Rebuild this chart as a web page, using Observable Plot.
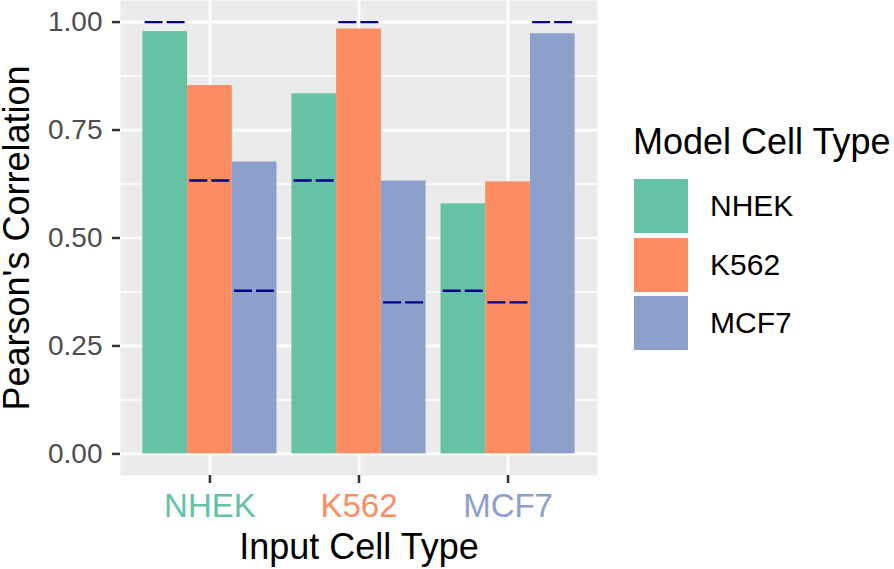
<!DOCTYPE html>
<html>
<head>
<meta charset="utf-8">
<script src="https://cdn.jsdelivr.net/npm/d3@7"></script>
<script src="https://cdn.jsdelivr.net/npm/@observablehq/plot@0.6"></script>
<style>
  html, body { margin: 0; padding: 0; background: white; }
  #wrap { position: relative; width: 894px; height: 569px; font-family: "Liberation Sans", Arial, Helvetica, sans-serif; }
  #legend { position: absolute; left: 633px; top: 0; }
  #legend .title { position: absolute; left: 0; top: 124px; font-size: 36px; color: #000; white-space: nowrap; line-height: 36px; }
  #legend .key { position: absolute; left: 1px; width: 54px; height: 54px; }
  #legend .lab { position: absolute; left: 77px; font-size: 30px; color: #000; line-height: 54px; white-space: nowrap; }
</style>
</head>
<body>
<div id="wrap"><div id="chart"></div><div id="legend"></div></div>
<script>
// ---- data ----
const inputs = ["NHEK", "K562", "MCF7"];          // Input Cell Type (x categories)
const models = ["NHEK", "K562", "MCF7"];          // Model Cell Type (fill)
const modelColors = ["#66C2A5", "#FC8D62", "#8DA0CB"];
// correlation per input (NHEK, K562, MCF7) for each model
const nhekModelValues = [0.978, 0.834, 0.579];
const k562ModelValues = [0.853, 0.984, 0.630];
const mcf7ModelValues = [0.676, 0.632, 0.973];
// dashed reference level per input for each model
const nhekModelBaseline = [1.00, 0.633, 0.378];
const k562ModelBaseline = [0.633, 1.00, 0.351];
const mcf7ModelBaseline = [0.378, 0.351, 1.00];
const yTicks = [0, 0.25, 0.5, 0.75, 1];
const yMinorTicks = [0.125, 0.375, 0.625, 0.875];

const valuesByModel = [nhekModelValues, k562ModelValues, mcf7ModelValues];
const baselineByModel = [nhekModelBaseline, k562ModelBaseline, mcf7ModelBaseline];

// dodge (like position_dodge, width 0.9)
const rows = [];
inputs.forEach((input, i) => {
  models.forEach((model, j) => {
    const left = (i + 1) - 0.45 + 0.3 * j;
    rows.push({
      input, model,
      value: valuesByModel[j][i],
      baseline: baselineByModel[j][i],
      x1: left, x2: left + 0.3,
      c1: left + 0.15 - 0.135, c2: left + 0.15 + 0.135
    });
  });
});

const font = "'Liberation Sans', Arial, Helvetica, sans-serif";

const plot = Plot.plot({
  width: 894,
  height: 569,
  marginLeft: 120,
  marginRight: 297,
  marginTop: 0,
  marginBottom: 94,
  style: { fontFamily: font, background: "white", overflow: "visible" },
  x: { domain: [0.4, 3.6], axis: null },
  y: { domain: [-0.05, 1.05], axis: null },
  color: { domain: models, range: modelColors },
  marks: [
    Plot.frame({ fill: "#EBEBEB", stroke: null }),
    Plot.gridY({ ticks: yMinorTicks, stroke: "white", strokeOpacity: 1, strokeWidth: 1.4 }),
    Plot.gridY({ ticks: yTicks, stroke: "white", strokeOpacity: 1, strokeWidth: 2.7 }),
    Plot.gridX({ ticks: [1, 2, 3], stroke: "white", strokeOpacity: 1, strokeWidth: 2.7 }),
    Plot.rectY(rows, { x1: "x1", x2: "x2", y: "value", fill: "model" }),
    Plot.ruleY(rows, { x1: "c1", x2: "c2", y: "baseline", stroke: "#00008B", strokeWidth: 2.4, strokeDasharray: "18,4" }),
    Plot.axisY({
      ticks: yTicks, tickFormat: d3.format(".2f"), tickSize: 8, tickPadding: 10,
      stroke: "#333333", strokeWidth: 2.5, fill: "#4D4D4D", fontSize: 28, label: null
    }),
    Plot.axisX({
      ticks: [1, 2, 3], tickFormat: d => inputs[d - 1], tickSize: 8, tickPadding: 10,
      stroke: "#333333", strokeWidth: 2.5, fill: d => inputs[d - 1], fontSize: 33, label: null
    }),
    Plot.text(["Pearson's Correlation"], {
      frameAnchor: "left", textAnchor: "middle", rotate: -90, dx: -92, lineAnchor: "bottom",
      fontSize: 36, fill: "black"
    }),
    Plot.text(["Input Cell Type"], {
      frameAnchor: "bottom", dy: 83, lineAnchor: "bottom", fontSize: 36, fill: "black"
    })
  ]
});
document.getElementById("chart").appendChild(plot);

// legend built from the plot's color scale
const cs = plot.scale("color");
const legend = document.getElementById("legend");
const t = document.createElement("div");
t.className = "title";
t.textContent = "Model Cell Type";
legend.appendChild(t);
cs.domain.forEach((m, k) => {
  const top = 179 + k * 58.5;
  const key = document.createElement("div");
  key.className = "key";
  key.style.top = top + "px";
  key.style.background = cs.apply(m);
  legend.appendChild(key);
  const lab = document.createElement("div");
  lab.className = "lab";
  lab.style.top = top + "px";
  lab.textContent = m;
  legend.appendChild(lab);
});
</script>
</body>
</html>
